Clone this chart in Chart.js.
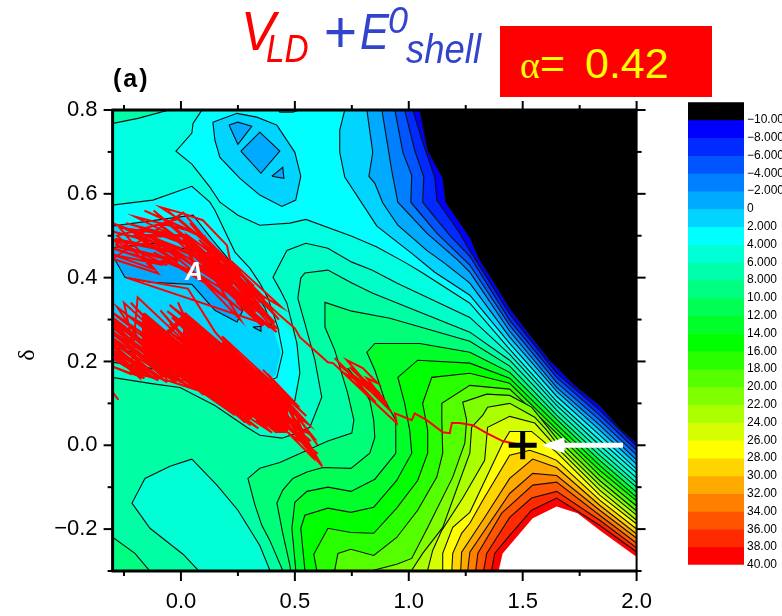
<!DOCTYPE html>
<html>
<head>
<meta charset="utf-8">
<script src="https://cdn.jsdelivr.net/npm/chart.js@4"></script>
<style>
  html, body { margin: 0; background: #fff; overflow: hidden; }
  body { width: 782px; height: 616px; position: relative; font-family: "Liberation Sans", sans-serif; }
  canvas { position: absolute; }
  #main { left: 0; top: 0; }
  #bar { left: 680px; top: 92px; }
  .t { position: absolute; line-height: 1; white-space: pre; transform-origin: left top; font-style: italic; }
  .red { color: #ff0000; }
  .blue { color: #3344cc; }
</style>
</head>
<body>
<canvas id="main" width="782" height="616"></canvas>
<canvas id="bar" width="102" height="483"></canvas>

<div class="t red" style="left:241px;top:3px;font-size:56px;transform:scaleX(.92)">V</div>
<div class="t red" style="left:266px;top:30px;font-size:38px;transform:scaleX(.88)">LD</div>
<div class="t blue" style="left:323px;top:2px;font-size:60px;transform:scaleX(.95)">+</div>
<div class="t blue" style="left:360px;top:7px;font-size:50px;transform:scaleX(.87)">E</div>
<div class="t blue" style="left:388px;top:3px;font-size:36px">0</div>
<div class="t blue" style="left:406px;top:29px;font-size:41px;transform:scaleX(.89)">shell</div>
<div style="position:absolute;left:500px;top:26px;width:212px;height:71px;background:#ff0000"></div>
<div style="position:absolute;left:520px;top:42px;line-height:1;color:#ffff00;font-size:43px;white-space:pre"><span style="font-family:'Liberation Serif';font-size:38px">α</span>= <span style="margin-left:8px">0.42</span></div>
<div style="position:absolute;left:113px;top:66px;line-height:1;font-size:25px;font-weight:bold;letter-spacing:2px">(a)</div>
<div class="t" style="left:185px;top:259px;font-size:25px;font-weight:bold;color:#fff">A</div>
<div style="position:absolute;left:14px;top:342px;width:24px;height:26px;line-height:26px;text-align:center;font-family:'Liberation Serif';font-size:24px;transform:rotate(-90deg)">δ</div>

<script>
// axis ticks
const xMajorTicks = [0, 0.5, 1, 1.5, 2];
const xTickLabels = ["0.0", "0.5", "1.0", "1.5", "2.0"];
const xMinorTicks = [-0.25, 0.25, 0.75, 1.25, 1.75];
const yMajorTicks = [0.8, 0.6, 0.4, 0.2, 0, -0.2];
const yTickLabels = ["0.8", "0.6", "0.4", "0.2", "0.0", "\u22120.2"];
const yMinorTicks = [0.7, 0.5, 0.3, 0.1, -0.1, -0.3];

// colour bar
const bandLows = [-12, -10, -8, -6, -4, -2, 0, 2, 4, 6, 8, 10, 12, 14, 16, 18, 20, 22, 24, 26, 28, 30, 32, 34, 36, 38];
const bandColors = ["#000000", "rgb(0,0,255)", "rgb(0,42,255)", "rgb(0,85,255)", "rgb(0,128,255)", "rgb(0,170,255)", "rgb(0,212,255)", "rgb(0,255,255)", "rgb(0,255,213)", "rgb(0,255,170)", "rgb(0,255,128)", "rgb(0,255,85)", "rgb(0,255,42)", "rgb(0,255,0)", "rgb(42,255,0)", "rgb(85,255,0)", "rgb(128,255,0)", "rgb(170,255,0)", "rgb(213,255,0)", "rgb(255,255,0)", "rgb(255,213,0)", "rgb(255,170,0)", "rgb(255,128,0)", "rgb(255,85,0)", "rgb(255,42,0)", "rgb(255,0,0)"];
const barTicks = [-10, -8, -6, -4, -2, 0, 2, 4, 6, 8, 10, 12, 14, 16, 18, 20, 22, 24, 26, 28, 30, 32, 34, 36, 38, 40];
const barLabels = ["\u221210.000", "\u22128.000", "\u22126.000", "\u22124.000", "\u22122.000", "0", "2.000", "4.000", "6.000", "8.000", "10.00", "12.00", "14.00", "16.00", "18.00", "20.00", "22.00", "24.00", "26.00", "28.00", "30.00", "32.00", "34.00", "36.00", "38.00", "40.00"];

// contours, [x, y] in axis units. Points past the axis limits close the shapes.
const fullPlot = [[-0.4, -0.5], [2.1, -0.5], [2.1, 0.9], [-0.4, 0.9]];

const contourRidge4 = [[-0.355, 0.203], [-0.136, 0.184], [0.127, 0.143], [0.368, 0.088], [0.443, 0.079], [0.5, 0.107], [0.522, 0.172], [0.509, 0.243], [0.465, 0.339], [0.434, 0.372], [0.404, 0.401], [0.443, 0.442], [0.465, 0.465], [0.548, 0.482], [0.645, 0.47], [0.75, 0.437], [0.838, 0.418], [0.947, 0.387], [1.061, 0.358], [1.268, 0.305], [1.443, 0.217], [1.649, 0.095], [1.838, 0], [1.996, -0.076], [2.1, -0.12], [2.1, -0.5], [-0.4, -0.5]];
const contour6 = [[-0.355, 0.165], [-0.303, 0.162], [-0.114, 0.146], [-0.004, 0.138], [0.149, 0.095], [0.289, 0.043], [0.346, 0.024], [0.443, 0.017], [0.509, 0.029], [0.566, 0.043], [0.618, 0.115], [0.588, 0.203], [0.544, 0.291], [0.513, 0.351], [0.526, 0.399], [0.544, 0.411], [0.645, 0.418], [0.75, 0.387], [0.842, 0.363], [1.268, 0.27], [1.443, 0.203], [1.649, 0.084], [1.838, -0.012], [1.996, -0.088], [2.1, -0.133], [2.1, -0.5], [-0.4, -0.5]];
const islandLow6 = [[0.048, -0.033], [-0.048, -0.05], [-0.158, -0.079], [-0.215, -0.138], [-0.136, -0.198], [0.009, -0.26], [0.075, -0.298], [0.096, -0.322], [0.399, -0.322], [0.39, -0.298], [0.346, -0.239], [0.25, -0.155], [0.158, -0.095], [0.048, -0.033]];
const cornerBottom8 = [[-0.355, -0.203], [-0.298, -0.22], [-0.202, -0.258], [-0.14, -0.298], [-0.114, -0.322], [-0.4, -0.5]];
const cornerTop6 = [[-0.355, 0.764], [-0.298, 0.768], [-0.189, 0.78], [-0.039, 0.802], [0.018, 0.811], [-0.4, 0.9]];
const contour8 = [[0.465, -0.322], [0.39, -0.227], [0.355, -0.191], [0.325, -0.143], [0.294, -0.079], [0.346, -0.055], [0.434, -0.041], [0.645, 0.01], [0.75, 0.029], [0.759, 0.06], [0.732, 0.124], [0.675, 0.227], [0.632, 0.282], [0.632, 0.341], [0.75, 0.32], [0.917, 0.303], [1.268, 0.248], [1.443, 0.189], [1.649, 0.072], [1.838, -0.024], [1.996, -0.098], [2.1, -0.143], [2.1, -0.5]];
const contour10 = [[0.732, 0.184], [0.785, 0.148], [0.829, 0.107], [0.846, 0.06], [0.851, 0.019], [0.829, -0.019], [0.746, -0.055], [0.623, -0.053], [0.553, -0.064], [0.491, -0.079], [0.447, -0.107], [0.421, -0.138], [0.447, -0.21], [0.478, -0.286], [0.487, -0.322], [2.1, -0.5], [2.1, -0.15]];
const contour12 = [[0.518, -0.322], [0.504, -0.298], [0.487, -0.198], [0.5, -0.136], [0.553, -0.11], [0.645, -0.1], [0.746, -0.11], [0.851, -0.081], [0.943, -0.019], [0.943, 0.06], [0.895, 0.107], [0.851, 0.179], [0.816, 0.222], [0.851, 0.243], [1.048, 0.243], [1.268, 0.222], [1.443, 0.174], [1.649, 0.062], [1.838, -0.036], [1.996, -0.11], [2.1, -0.155], [2.1, -0.5]];
const contour14 = [[0.557, -0.322], [0.544, -0.298], [0.526, -0.198], [0.544, -0.167], [0.645, -0.15], [0.746, -0.16], [0.846, -0.148], [0.947, -0.084], [1.013, -0.019], [1.004, 0.036], [0.982, 0.1], [0.952, 0.162], [1.039, 0.203], [1.268, 0.196], [1.443, 0.16], [1.649, 0.05], [1.838, -0.048], [1.996, -0.122], [2.1, -0.167], [2.1, -0.5]];
const contour16 = [[0.61, -0.322], [0.596, -0.298], [0.583, -0.26], [0.645, -0.198], [0.746, -0.208], [0.846, -0.21], [0.947, -0.15], [1.039, -0.084], [1.083, -0.019], [1.083, 0.036], [1.061, 0.1], [1.101, 0.162], [1.268, 0.172], [1.443, 0.148], [1.649, 0.038], [1.838, -0.06], [1.996, -0.131], [2.1, -0.176], [2.1, -0.5]];
const contour18 = [[0.671, -0.322], [0.675, -0.298], [0.689, -0.258], [0.746, -0.248], [0.846, -0.263], [0.947, -0.22], [1.039, -0.155], [1.123, -0.076], [1.149, -0.019], [1.145, 0.06], [1.145, 0.1], [1.268, 0.143], [1.443, 0.134], [1.649, 0.029], [1.838, -0.072], [1.996, -0.143], [2.1, -0.188], [2.1, -0.5]];
const contour20 = [[0.838, -0.322], [0.846, -0.298], [0.947, -0.284], [1.013, -0.27], [1.083, -0.196], [1.193, -0.076], [1.246, 0.005], [1.254, 0.06], [1.237, 0.103], [1.342, 0.122], [1.443, 0.119], [1.539, 0.091], [1.649, 0.017], [1.838, -0.084], [1.996, -0.155], [2.1, -0.2], [2.1, -0.5]];
const contour22 = [[1.004, -0.322], [1.013, -0.298], [1.061, -0.258], [1.149, -0.196], [1.224, -0.084], [1.268, -0.019], [1.276, 0.043], [1.325, 0.072], [1.346, 0.091], [1.443, 0.1], [1.553, 0.067], [1.605, 0.036], [1.649, 0.005], [1.838, -0.095], [1.996, -0.165], [2.1, -0.21], [2.1, -0.5]];
const contour24 = [[1.075, -0.322], [1.083, -0.298], [1.105, -0.251], [1.145, -0.203], [1.237, -0.126], [1.333, -0.036], [1.342, 0.019], [1.346, 0.043], [1.443, 0.069], [1.553, 0.053], [1.649, -0.005], [1.838, -0.107], [1.996, -0.177], [2.1, -0.222], [2.1, -0.5]];
const contour26 = [[1.149, -0.322], [1.149, -0.298], [1.149, -0.258], [1.193, -0.196], [1.268, -0.16], [1.412, 0.005], [1.443, 0.033], [1.539, 0.033], [1.649, -0.017], [1.838, -0.119], [1.996, -0.186], [2.1, -0.231], [2.1, -0.5]];
const contour28 = [[1.189, -0.322], [1.189, -0.298], [1.193, -0.258], [1.232, -0.21], [1.268, -0.186], [1.325, -0.131], [1.443, -0.024], [1.531, -0.012], [1.596, -0.024], [1.649, -0.036], [1.838, -0.131], [1.996, -0.198], [2.1, -0.243], [2.1, -0.5]];
const contour30 = [[1.228, -0.322], [1.228, -0.298], [1.232, -0.255], [1.325, -0.179], [1.443, -0.079], [1.544, -0.033], [1.649, -0.053], [1.838, -0.143], [1.996, -0.21], [2.1, -0.255], [2.1, -0.5]];
const contour32 = [[1.259, -0.322], [1.259, -0.298], [1.268, -0.255], [1.443, -0.115], [1.544, -0.067], [1.649, -0.072], [1.838, -0.155], [1.996, -0.22], [2.1, -0.265], [2.1, -0.5]];
const contour34 = [[1.294, -0.322], [1.294, -0.298], [1.303, -0.258], [1.408, -0.162], [1.544, -0.095], [1.649, -0.088], [1.838, -0.167], [1.996, -0.232], [2.1, -0.277], [2.1, -0.5]];
const contour36 = [[1.329, -0.322], [1.329, -0.298], [1.342, -0.258], [1.443, -0.172], [1.539, -0.126], [1.649, -0.11], [1.838, -0.179], [1.996, -0.243], [2.1, -0.288], [2.1, -0.5]];
const contour38 = [[1.364, -0.322], [1.364, -0.298], [1.377, -0.258], [1.443, -0.215], [1.539, -0.155], [1.649, -0.126], [1.838, -0.191], [1.996, -0.253], [2.1, -0.298], [2.1, -0.5]];
const contour40 = [[1.395, -0.322], [1.395, -0.298], [1.412, -0.258], [1.544, -0.174], [1.649, -0.146], [1.741, -0.162], [1.838, -0.203], [1.996, -0.265], [2.1, -0.31], [2.1, -0.5]];

const lowUpper4 = [[0.101, 0.9], [0.092, 0.8], [0.053, 0.768], [0.048, 0.745], [-0.022, 0.702], [0.048, 0.671], [0.127, 0.616], [0.171, 0.58], [0.25, 0.549], [0.346, 0.525], [0.478, 0.53], [0.548, 0.539], [0.75, 0.499], [0.86, 0.473], [0.991, 0.434], [1.061, 0.411], [1.268, 0.339], [1.443, 0.229], [1.649, 0.105], [1.838, 0.012], [1.996, -0.064], [2.1, -0.11], [2.1, 0.9]];
const lowLeft4 = [[-0.355, 0.57], [-0.303, 0.573], [-0.123, 0.585], [0.048, 0.618], [0.127, 0.58], [0.149, 0.561], [0.237, 0.461], [0.303, 0.422], [0.346, 0.387], [0.382, 0.351], [0.425, 0.282], [0.447, 0.222], [0.421, 0.162], [0.368, 0.148], [0.346, 0.143], [0.083, 0.174], [-0.268, 0.231], [-0.355, 0.239]];
const cyanPatch = [[0.43, 0.3], [0.5, 0.25], [0.515, 0.175], [0.495, 0.11], [0.44, 0.082], [0.36, 0.092], [0.25, 0.135]];
const topStrip = [[0.426, 0.805], [0.434, 0.795], [0.491, 0.795], [0.548, 0.805]];
const lowUpper2 = [[0.719, 0.9], [0.719, 0.8], [0.697, 0.752], [0.697, 0.699], [0.719, 0.64], [0.86, 0.523], [1.013, 0.458], [1.114, 0.413], [1.268, 0.358], [1.443, 0.243], [1.649, 0.117], [1.838, 0.024], [1.996, -0.055], [2.1, -0.1], [2.1, 0.9]];
const lowLoop2 = [[0.14, 0.771], [0.246, 0.792], [0.333, 0.783], [0.421, 0.764], [0.5, 0.699], [0.526, 0.642], [0.504, 0.585], [0.443, 0.57], [0.346, 0.597], [0.259, 0.637], [0.171, 0.687], [0.149, 0.728], [0.14, 0.771]];
const lowLeft2Edge = [[-0.355, 0.52], [-0.303, 0.523], [0.053, 0.549], [0.14, 0.489], [0.303, 0.382], [0.368, 0.329], [0.404, 0.279]];
const lowLeft2Rest = [[0.438, 0.222], [0.415, 0.167], [0.365, 0.153], [0.083, 0.182], [-0.355, 0.25]];
const lowLeft0 = [[-0.355, 0.465], [-0.246, 0.475], [-0.123, 0.482], [0.061, 0.465], [0.193, 0.394], [0.272, 0.322], [0.246, 0.294], [0.149, 0.322], [0.048, 0.384], [-0.136, 0.389], [-0.246, 0.401], [-0.289, 0.442], [-0.355, 0.446]];
const lowBit0 = [[0.316, 0.282], [0.351, 0.284], [0.351, 0.272], [0.316, 0.282]];
const lowUpper0 = [[0.816, 0.9], [0.816, 0.8], [0.842, 0.699], [0.825, 0.642], [0.851, 0.625], [0.886, 0.578], [0.952, 0.525], [1.079, 0.465], [1.158, 0.434], [1.268, 0.387], [1.443, 0.258], [1.649, 0.129], [1.838, 0.036], [1.996, -0.043], [2.1, -0.088], [2.1, 0.9]];
const dipA0 = [[0.211, 0.764], [0.25, 0.771], [0.311, 0.761], [0.25, 0.718], [0.211, 0.764]];
const dipB0 = [[0.263, 0.702], [0.346, 0.747], [0.434, 0.702], [0.351, 0.649], [0.263, 0.702]];
const dipC0 = [[0.399, 0.642], [0.447, 0.663], [0.452, 0.637], [0.399, 0.642]];
const lowMinus2 = [[0.882, 0.9], [0.882, 0.8], [0.925, 0.656], [0.952, 0.58], [1.079, 0.506], [1.215, 0.442], [1.268, 0.413], [1.443, 0.272], [1.649, 0.138], [1.838, 0.048], [1.996, -0.033], [2.1, -0.078], [2.1, 0.9]];
const lowMinus4 = [[0.939, 0.9], [0.939, 0.8], [0.974, 0.699], [1.013, 0.644], [1.009, 0.58], [1.123, 0.506], [1.268, 0.43], [1.443, 0.286], [1.649, 0.15], [1.838, 0.06], [1.996, -0.021], [2.1, -0.066], [2.1, 0.9]];
const lowMinus6 = [[0.982, 0.9], [0.982, 0.8], [1.026, 0.704], [1.066, 0.64], [1.061, 0.58], [1.18, 0.501], [1.268, 0.451], [1.443, 0.298], [1.649, 0.162], [1.838, 0.072], [1.996, -0.01], [2.1, -0.055], [2.1, 0.9]];
const lowMinus8 = [[1.018, 0.9], [1.018, 0.8], [1.061, 0.723], [1.114, 0.64], [1.123, 0.585], [1.224, 0.506], [1.268, 0.465], [1.443, 0.313], [1.649, 0.172], [1.838, 0.084], [1.996, 0], [2.1, -0.045], [2.1, 0.9]];
const lowMinus10 = [[1.048, 0.9], [1.048, 0.8], [1.083, 0.704], [1.149, 0.637], [1.162, 0.58], [1.268, 0.496], [1.311, 0.442], [1.368, 0.394], [1.443, 0.327], [1.509, 0.279], [1.618, 0.203], [1.728, 0.143], [1.838, 0.095], [1.925, 0.041], [1.996, 0.007], [2.1, -0.04], [2.1, 0.9]];

// red trajectory, from the marked point back through the two scribbled regions
const pathTail = [[1.496, 0], [1.412, 0.01], [1.342, 0.029], [1.281, 0.048], [1.224, 0.053], [1.189, 0.053], [1.18, 0.029], [1.149, 0.031], [1.079, 0.06], [1.026, 0.076], [1.013, 0.06], [0.939, 0.076]];
const pathMiddle = [[0.947, 0.053], [0.908, 0.072], [0.711, 0.174], [0.873, 0.124], [0.741, 0.186], [0.904, 0.1], [0.816, 0.16], [0.864, 0.148], [0.798, 0.184], [0.728, 0.203], [0.925, 0.079], [0.838, 0.126], [0.697, 0.191], [0.882, 0.117], [0.785, 0.15], [0.675, 0.208], [0.855, 0.103], [0.667, 0.196], [0.645, 0.198], [0.522, 0.258], [0.5, 0.279], [0.434, 0.31]];
const pathUpper = [[0.2, 0.43], [0.43, 0.3], [0.22, 0.44], [0.44, 0.33], [0.19, 0.41], [0.41, 0.29], [0.21, 0.4], [0.42, 0.27], [0.18, 0.38], [0.39, 0.28], [0.24, 0.35], [0.4, 0.3], [0.16, 0.44], [0.37, 0.35], [0.06, 0.52], [0.32, 0.38], [0.08, 0.49], [0.3, 0.36], [0.05, 0.46], [0.29, 0.34], [0.09, 0.43], [0.31, 0.33], [0.07, 0.41], [0.27, 0.32], [0.1, 0.39], [0.26, 0.3], [0.03, 0.5], [0.28, 0.4], [0.06, 0.47], [0.15, 0.44], [-0.12, 0.56], [0.17, 0.42], [-0.1, 0.53], [0.14, 0.41], [-0.13, 0.5], [0.16, 0.39], [-0.09, 0.48], [0.13, 0.38], [-0.12, 0.46], [0.1, 0.4], [-0.08, 0.44], [0.02, 0.45], [-0.3, 0.53], [0, 0.47], [-0.3, 0.51], [-0.02, 0.47], [-0.3, 0.49], [-0.06, 0.43], [-0.3, 0.47], [-0.08, 0.43], [-0.3, 0.455], [-0.12, 0.42], [-0.28, 0.5], [-0.01, 0.54], [-0.09, 0.568], [0.004, 0.554], [0.096, 0.537], [0.202, 0.477], [0.22, 0.43], [0.13, 0.48], [0.01, 0.555], [-0.3, 0.445], [-0.1, 0.41], [-0.27, 0.52], [-0.03, 0.5], [-0.24, 0.53], [0, 0.49], [-0.2, 0.545], [0.05, 0.51], [-0.16, 0.56], [0.08, 0.5], [-0.06, 0.56], [0.14, 0.47], [-0.02, 0.545], [0.2, 0.44], [0.04, 0.53], [0.26, 0.39], [0.1, 0.5], [0.35, 0.34], [0.16, 0.46], [0.38, 0.31], [0.28, 0.36], [0.42, 0.28], [-0.24, 0.4], [0.03, 0.374], [0.15, 0.27], [0.34, 0.155]];
const pathLower = [[0.18, 0.26], [0.46, 0.12], [0.18, 0.245], [0.47, 0.105], [0.17, 0.23], [0.46, 0.095], [0.19, 0.215], [0.48, 0.085], [0.18, 0.2], [0.47, 0.07], [0.19, 0.185], [0.46, 0.06], [0.17, 0.17], [0.45, 0.05], [0.18, 0.155], [0.44, 0.04], [0.2, 0.14], [0.42, 0.03], [0.22, 0.12], [0.4, 0.03], [0.19, 0.105], [0.34, 0.04], [0.2, 0.09], [0.3, 0.05], [0.25, 0.21], [-0.05, 0.335], [0.25, 0.195], [-0.06, 0.32], [0.26, 0.18], [-0.04, 0.305], [0.24, 0.165], [-0.05, 0.29], [0.25, 0.15], [-0.06, 0.275], [0.24, 0.135], [-0.05, 0.26], [0.26, 0.12], [-0.04, 0.245], [0.25, 0.105], [-0.07, 0.23], [0.24, 0.09], [-0.06, 0.215], [0.23, 0.08], [-0.05, 0.2], [0.2, 0.1], [-0.06, 0.185], [0.14, 0.115], [-0.07, 0.17], [0.08, 0.13], [-0.06, 0.155], [-0.28, 0.33], [0.04, 0.19], [-0.31, 0.32], [0.03, 0.175], [-0.31, 0.3], [0.02, 0.16], [-0.31, 0.285], [0, 0.15], [-0.31, 0.27], [-0.02, 0.15], [-0.31, 0.25], [-0.06, 0.15], [-0.31, 0.23], [-0.1, 0.155], [-0.31, 0.21], [-0.16, 0.16], [-0.31, 0.19], [-0.22, 0.17], [-0.19, 0.353], [0.05, 0.23], [-0.09, 0.322], [0.08, 0.22], [-0.013, 0.341], [0.1, 0.21], [-0.2, 0.3], [0.1, 0.16], [-0.18, 0.27], [0.12, 0.13], [-0.15, 0.24], [0.1, 0.12], [-0.31, 0.31], [-0.1, 0.22], [-0.31, 0.295], [-0.12, 0.205], [-0.31, 0.275], [-0.12, 0.19], [-0.31, 0.26], [-0.14, 0.175], [-0.31, 0.24], [-0.15, 0.165], [-0.31, 0.22], [-0.18, 0.16], [-0.25, 0.34], [-0.05, 0.24], [-0.22, 0.34], [-0.02, 0.23], [0.38, 0.16], [0.55, 0.07], [0.4, 0.145], [0.56, 0.05], [0.38, 0.12], [0.54, 0.03], [0.42, 0.13], [0.58, 0.02], [0.4, 0.09], [0.62, -0.05], [0.44, 0.07], [0.56, -0.01], [0.45, 0.11], [0.62, -0.05], [0.47, 0.06], [0.52, 0.04], [0.43, 0.13], [0.53, 0.065], [0.44, 0.1], [0.5, 0.04], [0.4, 0.1], [0.55, 0.03], [0.42, 0.08], [0.57, 0.01], [0.45, 0.05], [0.6, -0.02], [0.47, 0.03], [0.58, -0.03], [0.5, 0.08], [0.6, 0], [0.38, 0.17], [0.52, 0.09], [0.36, 0.18], [0.5, 0.1]];
const pathStray = [[-0.3, 0.127], [-0.277, 0.11]];
// the parts of the scribble that print as nearly solid red
const pathDenseLower = [[-0.16, 0.31], [0.12, 0.18], [0.12, 0.165], [-0.16, 0.296], [-0.16, 0.282], [0.12, 0.152], [0.11, 0.14], [-0.16, 0.268], [-0.16, 0.254], [0.08, 0.145], [0.04, 0.15], [-0.16, 0.24], [-0.16, 0.226], [-0.02, 0.16], [-0.08, 0.17], [-0.16, 0.21], [0.02, 0.31], [0.3, 0.18], [0.3, 0.166], [0.02, 0.296], [0.02, 0.282], [0.3, 0.152], [0.3, 0.138], [0.02, 0.268], [0.02, 0.254], [0.3, 0.124], [0.3, 0.11], [0.02, 0.24], [0.02, 0.226], [0.3, 0.096], [0.3, 0.082], [0.02, 0.212], [0.02, 0.198], [0.3, 0.068], [0.28, 0.06], [0.02, 0.184], [0.02, 0.17], [0.24, 0.075], [0.2, 0.09], [0.02, 0.158], [0.2, 0.24], [0.44, 0.115], [0.46, 0.1], [0.2, 0.226], [0.2, 0.212], [0.46, 0.086], [0.46, 0.072], [0.2, 0.198], [0.2, 0.184], [0.46, 0.058], [0.46, 0.044], [0.2, 0.17], [0.2, 0.156], [0.45, 0.035], [0.42, 0.035], [0.2, 0.142], [0.2, 0.128], [0.38, 0.045], [0.34, 0.06]];
const pathDenseLeft = [[-0.3, 0.3], [-0.06, 0.19], [-0.06, 0.175], [-0.3, 0.285], [-0.3, 0.27], [-0.08, 0.165], [-0.1, 0.16], [-0.3, 0.255], [-0.3, 0.24], [-0.14, 0.165], [-0.18, 0.17], [-0.3, 0.225]];
const pathDenseUpper = [[0.12, 0.46], [0.3, 0.37], [0.3, 0.355], [0.12, 0.445], [0.12, 0.43], [0.32, 0.33], [0.32, 0.316], [0.14, 0.415], [0.16, 0.39], [0.34, 0.3], [0.36, 0.285], [0.25, 0.34], [0.24, 0.36], [0.05, 0.44], [0.02, 0.485], [0.22, 0.385], [0.22, 0.4], [0.02, 0.5], [-0.15, 0.5], [0.05, 0.455], [0.05, 0.475], [-0.15, 0.515], [-0.2, 0.5], [-0.02, 0.44], [-0.02, 0.46], [-0.28, 0.49], [-0.28, 0.475], [-0.06, 0.445]];

// marked point and arrow
const markPoint = [[1.5, 0]];
const arrowShaft = [[1.94, 0], [1.66, 0]];
const arrowHead = [[1.587, 0], [1.68, 0.017], [1.68, -0.017], [1.587, 0]];

const bandOf = (low) => bandColors[bandLows.indexOf(low)];
const toPoints = (list) => list.map((p) => ({ x: p[0], y: p[1] }));

// painted in this order, later shapes cover earlier ones: [points, fill colour, line width]
const layers = [
    [fullPlot, "rgb(0,255,225)", 0],
    [contourRidge4, "rgb(0,255,200)", 1.1],
    [contour6, "rgb(0,255,165)", 1.1],
    [islandLow6, "rgb(0,255,213)", 1.1],
    [cornerBottom8, bandOf(8), 1.1],
    [cornerTop6, bandOf(6), 1.1],
    [contour8, "rgb(0,255,120)", 1.1],
    [contour10, bandOf(10), 1.1],
    [contour12, bandOf(12), 1.1],
    [contour14, bandOf(14), 1.1],
    [contour16, bandOf(16), 1.1],
    [contour18, bandOf(18), 1.1],
    [contour20, bandOf(20), 1.1],
    [contour22, bandOf(22), 1.1],
    [contour24, bandOf(24), 1.1],
    [contour26, bandOf(26), 1.1],
    [contour28, bandOf(28), 1.1],
    [contour30, bandOf(30), 1.1],
    [contour32, bandOf(32), 1.1],
    [contour34, bandOf(34), 1.1],
    [contour36, bandOf(36), 1.1],
    [contour38, bandOf(38), 1.1],
    [contour40, "#ffffff", 0],
    [lowUpper4, bandOf(2), 1.1],
    [cyanPatch, bandOf(2), 0],
    [lowLeft4, bandOf(2), 1.1],
    [topStrip, bandOf(4), 1.1],
    [lowUpper2, bandOf(0), 1.1],
    [lowLoop2, bandOf(0), 1.1],
    [lowLeft2Edge.concat(lowLeft2Rest), bandOf(0), 0],
    [lowLeft2Edge, null, 1.1],
    [lowLeft0, bandOf(-2), 1.1],
    [lowBit0, bandOf(-2), 1.1],
    [dipA0, bandOf(-2), 1.1],
    [dipB0, bandOf(-2), 1.1],
    [dipC0, bandOf(-2), 1.1],
    [lowUpper0, bandOf(-2), 1.1],
    [lowMinus2, bandOf(-4), 1.1],
    [lowMinus4, bandOf(-6), 1.1],
    [lowMinus6, bandOf(-8), 1.1],
    [lowMinus8, bandOf(-10), 1.1],
    [lowMinus10, bandOf(-12), 1.1],
];

const shapeSets = layers.map(([pts, color, width]) => ({
    data: toPoints(pts),
    showLine: true,
    pointRadius: 0,
    fill: color ? "shape" : false,
    backgroundColor: color || "transparent",
    borderColor: "#101010",
    borderWidth: width,
}));

const redLine = (pts, width) => ({
    data: toPoints(pts),
    showLine: true,
    pointRadius: 0,
    fill: false,
    borderColor: "#ff0000",
    borderWidth: width,
    borderCapStyle: "round",
});
const redSets = [
    redLine(pathTail.concat(pathMiddle, pathUpper, pathLower), 2),
    redLine(pathStray, 2),
    redLine(pathDenseLower, 5),
    redLine(pathDenseLeft, 3),
    redLine(pathDenseUpper, 3.5),
];

const markSets = [
    { data: toPoints(arrowShaft), showLine: true, pointRadius: 0, fill: false, borderColor: "#ffffff", borderWidth: 5 },
    { data: toPoints(arrowHead), showLine: true, pointRadius: 0, fill: "shape", backgroundColor: "#ffffff", borderColor: "#ffffff", borderWidth: 1 },
    { data: toPoints(markPoint), pointStyle: "cross", pointRadius: 14, borderColor: "#000000", pointBorderWidth: 5, pointBorderColor: "#000000", backgroundColor: "#000000" },
];

// the library draws the first dataset on top, so hand the paint order over reversed
const allSets = shapeSets.concat(redSets, markSets).reverse();

// outward ticks on all four sides and the heavy frame
const framePlugin = {
    id: "frame",
    afterDatasetsDraw(chart) {
        const { ctx, chartArea: a, scales } = chart;
        const tick = (x1, y1, x2, y2, w) => {
            ctx.lineWidth = w;
            ctx.beginPath();
            ctx.moveTo(x1, y1);
            ctx.lineTo(x2, y2);
            ctx.stroke();
        };
        ctx.save();
        ctx.strokeStyle = "#000";
        xMajorTicks.forEach((v) => {
            const x = scales.x.getPixelForValue(v);
            tick(x, a.bottom, x, a.bottom + 10, 2);
            tick(x, a.top, x, a.top - 9, 2);
        });
        xMinorTicks.forEach((v) => {
            const x = scales.x.getPixelForValue(v);
            tick(x, a.bottom, x, a.bottom + 5, 2);
            tick(x, a.top, x, a.top - 5, 2);
        });
        yMajorTicks.forEach((v) => {
            const y = scales.y.getPixelForValue(v);
            tick(a.left, y, a.left - 9, y, 2);
            tick(a.right, y, a.right + 9, y, 2);
        });
        yMinorTicks.forEach((v) => {
            const y = scales.y.getPixelForValue(v);
            tick(a.left, y, a.left - 5, y, 2);
            tick(a.right, y, a.right + 5, y, 2);
        });
        tick(a.left - 1, a.top, a.right + 1, a.top, 3);
        tick(a.left - 1, a.bottom, a.right + 1, a.bottom, 3);
        tick(a.left, a.top, a.left, a.bottom, 3);
        tick(a.right, a.top, a.right, a.bottom, 2);
        ctx.restore();
    },
};

new Chart(document.getElementById("main"), {
    type: "scatter",
    data: { datasets: allSets },
    options: {
        responsive: false,
        animation: false,
        events: [],
        layout: { padding: { left: 0, top: 110, right: 145.4, bottom: 0 } },
        plugins: { legend: { display: false }, tooltip: { enabled: false } },
        scales: {
            x: {
                type: "linear",
                min: -0.3,
                max: 2,
                afterBuildTicks: (s) => { s.ticks = xMajorTicks.map((v) => ({ value: v })); },
                afterFit: (s) => { s.height = 45; },
                grid: { display: false, drawTicks: false },
                border: { display: false },
                ticks: {
                    autoSkip: false,
                    maxRotation: 0,
                    padding: 18,
                    color: "#000",
                    font: { family: "Liberation Sans", size: 22 },
                    callback: (v, i) => xTickLabels[i],
                },
            },
            y: {
                type: "linear",
                min: -0.3,
                max: 0.8,
                afterBuildTicks: (s) => { s.ticks = yMajorTicks.map((v) => ({ value: v })); },
                afterFit: (s) => { s.width = 112.6; },
                grid: { display: false, drawTicks: false },
                border: { display: false },
                ticks: {
                    autoSkip: false,
                    padding: 15,
                    color: "#000",
                    font: { family: "Liberation Sans", size: 22 },
                    callback: (v, i) => yTickLabels[i],
                },
            },
        },
    },
    plugins: [framePlugin],
});

// colour bar, one floating bar per band
new Chart(document.getElementById("bar"), {
    type: "bar",
    data: {
        labels: [""],
        datasets: bandLows.map((low, i) => ({
            data: [[low, low + 2]],
            backgroundColor: bandColors[i],
            barPercentage: 1,
            categoryPercentage: 1,
            grouped: false,
        })),
    },
    options: {
        responsive: false,
        animation: false,
        events: [],
        layout: { padding: { left: 8, top: 7, bottom: 10, right: 0 } },
        plugins: { legend: { display: false }, tooltip: { enabled: false } },
        scales: {
            x: { display: false },
            y: {
                position: "right",
                reverse: true,
                min: -12,
                max: 40,
                afterBuildTicks: (s) => { s.ticks = barTicks.map((v) => ({ value: v })); },
                afterFit: (s) => { s.width = 38; },
                grid: { display: false, drawTicks: false },
                border: { display: false },
                ticks: {
                    autoSkip: false,
                    padding: 3,
                    color: "#000",
                    font: { family: "Liberation Sans", size: 12 },
                    callback: (v, i) => barLabels[i],
                },
            },
        },
    },
});
</script>
</body>
</html>
